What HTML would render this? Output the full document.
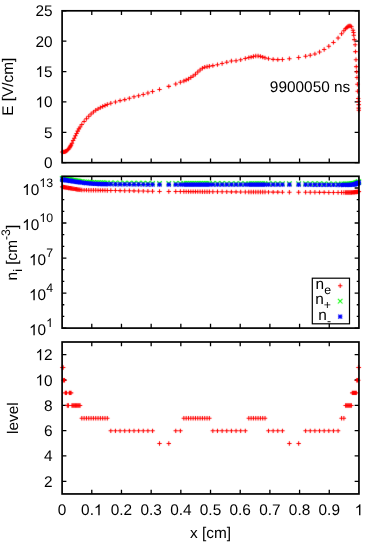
<!DOCTYPE html>
<html><head><meta charset="utf-8"><title>plot</title>
<style>html,body{margin:0;padding:0;background:#fff;}body{width:366px;height:549px;overflow:hidden;font-family:"Liberation Sans",sans-serif;}svg{display:block;will-change:transform;text-rendering:geometricPrecision;}</style></head>
<body>
<svg width="366" height="549" viewBox="0 0 366 549" font-family="'Liberation Sans', sans-serif" fill="#000">
<defs><filter id="sb" filterUnits="userSpaceOnUse" x="0" y="0" width="366" height="549"><feConvolveMatrix order="3" kernelMatrix="0.00562 0.06375 0.00562 0.06375 0.72250 0.06375 0.00562 0.06375 0.00562" divisor="1" edgeMode="none" preserveAlpha="false"/></filter></defs>
<path d="M91.78 162.70v-4.3M91.78 10.80v4.3M121.47 162.70v-4.3M121.47 10.80v4.3M151.16 162.70v-4.3M151.16 10.80v4.3M180.84 162.70v-4.3M180.84 10.80v4.3M210.52 162.70v-4.3M210.52 10.80v4.3M240.21 162.70v-4.3M240.21 10.80v4.3M269.89 162.70v-4.3M269.89 10.80v4.3M299.58 162.70v-4.3M299.58 10.80v4.3M329.26 162.70v-4.3M329.26 10.80v4.3M62.10 162.70h4.3M358.95 162.70h-4.3M62.10 132.32h4.3M358.95 132.32h-4.3M62.10 101.94h4.3M358.95 101.94h-4.3M62.10 71.56h4.3M358.95 71.56h-4.3M62.10 41.18h4.3M358.95 41.18h-4.3M62.10 10.80h4.3M358.95 10.80h-4.3" stroke="#000" stroke-width="1.3" fill="none"/>
<path d="M60.12 151.94H64.52M62.32 149.74V154.14M60.26 151.93H64.66M62.46 149.73V154.13M60.41 151.93H64.81M62.61 149.73V154.13M60.55 151.92H64.95M62.75 149.72V154.12M60.70 151.92H65.10M62.90 149.72V154.12M60.84 151.91H65.24M63.04 149.71V154.11M60.99 151.90H65.39M63.19 149.70V154.10M61.20 151.90H65.60M63.40 149.70V154.10M61.49 151.88H65.89M63.69 149.68V154.08M61.78 151.87H66.18M63.98 149.67V154.07M62.07 151.86H66.47M64.27 149.66V154.06M62.36 151.83H66.76M64.56 149.63V154.03M63.09 151.55H67.49M65.29 149.35V153.75M63.67 151.30H68.07M65.87 149.10V153.50M64.25 150.90H68.65M66.45 148.70V153.10M65.12 150.25H69.52M67.32 148.05V152.45M66.28 149.17H70.68M68.48 146.97V151.37M67.15 147.91H71.55M69.35 145.71V150.11M67.73 147.04H72.13M69.93 144.84V149.24M68.31 146.06H72.71M70.51 143.86V148.26M68.89 144.98H73.29M71.09 142.78V147.18M69.76 143.15H74.16M71.96 140.95V145.35M70.92 140.52H75.32M73.12 138.32V142.72M72.08 138.20H76.48M74.28 136.00V140.40M73.24 135.82H77.64M75.44 133.62V138.02M74.39 133.46H78.79M76.59 131.26V135.66M75.55 131.14H79.95M77.75 128.94V133.34M76.71 128.89H81.11M78.91 126.69V131.09M77.87 126.92H82.27M80.07 124.72V129.12M79.61 124.43H84.01M81.81 122.23V126.63M81.93 121.40H86.33M84.13 119.20V123.60M84.25 118.67H88.65M86.45 116.47V120.87M86.57 116.32H90.97M88.77 114.12V118.52M88.89 114.06H93.29M91.09 111.86V116.26M91.21 112.08H95.61M93.41 109.88V114.28M93.53 110.28H97.93M95.73 108.08V112.48M95.85 108.91H100.25M98.05 106.71V111.11M98.17 107.67H102.57M100.37 105.47V109.87M100.48 106.51H104.88M102.68 104.31V108.71M102.80 105.44H107.20M105.00 103.24V107.64M105.12 104.44H109.52M107.32 102.24V106.64M108.60 103.32H113.00M110.80 101.12V105.52M113.24 101.94H117.64M115.44 99.74V104.14M117.88 100.63H122.28M120.08 98.43V102.83M122.52 99.62H126.92M124.72 97.42V101.82M127.16 98.33H131.56M129.36 96.13V100.53M131.79 96.83H136.19M133.99 94.63V99.03M136.43 95.77H140.83M138.63 93.57V97.97M141.07 94.56H145.47M143.27 92.36V96.76M145.71 92.95H150.11M147.91 90.75V95.15M150.35 91.44H154.75M152.55 89.24V93.64M157.30 89.42H161.70M159.50 87.22V91.62M166.58 86.36H170.98M168.78 84.16V88.56M173.54 84.03H177.94M175.74 81.83V86.23M178.18 82.19H182.58M180.38 79.99V84.39M181.65 81.06H186.05M183.85 78.86V83.26M183.97 80.07H188.37M186.17 77.87V82.27M186.29 78.93H190.69M188.49 76.73V81.13M188.61 77.51H193.01M190.81 75.31V79.71M190.93 75.92H195.33M193.13 73.72V78.12M193.25 74.22H197.65M195.45 72.02V76.42M195.57 72.04H199.97M197.77 69.84V74.24M197.89 69.97H202.29M200.09 67.77V72.17M200.21 68.23H204.61M202.41 66.03V70.43M202.53 67.17H206.93M204.73 64.97V69.37M204.85 66.68H209.25M207.05 64.48V68.88M207.17 66.26H211.57M209.37 64.06V68.46M210.64 65.64H215.04M212.84 63.44V67.84M215.28 64.65H219.68M217.48 62.45V66.85M219.92 63.44H224.32M222.12 61.24V65.64M224.56 62.16H228.96M226.76 59.96V64.36M229.20 61.07H233.60M231.40 58.87V63.27M233.84 60.80H238.24M236.04 58.60V63.00M238.47 59.83H242.87M240.67 57.63V62.03M243.11 58.52H247.51M245.31 56.32V60.72M246.59 57.58H250.99M248.79 55.38V59.78M248.91 57.11H253.31M251.11 54.91V59.31M251.23 56.48H255.63M253.43 54.28V58.68M253.55 55.96H257.95M255.75 53.76V58.16M255.87 55.99H260.27M258.07 53.79V58.19M258.19 56.38H262.59M260.39 54.18V58.58M260.51 57.10H264.91M262.71 54.90V59.30M262.82 57.84H267.22M265.02 55.64V60.04M266.30 58.67H270.70M268.50 56.47V60.87M270.94 59.36H275.34M273.14 57.16V61.56M275.58 59.64H279.98M277.78 57.44V61.84M280.22 59.45H284.62M282.42 57.25V61.65M287.18 58.65H291.58M289.38 56.45V60.85M296.45 57.44H300.85M298.65 55.24V59.64M303.41 56.21H307.81M305.61 54.01V58.41M308.05 55.31H312.45M310.25 53.11V57.51M312.69 53.92H317.09M314.89 51.72V56.12M317.32 52.04H321.72M319.52 49.84V54.24M321.96 49.47H326.36M324.16 47.27V51.67M326.60 46.28H331.00M328.80 44.08V48.48M331.24 42.42H335.64M333.44 40.22V44.62M335.88 37.94H340.28M338.08 35.74V40.14M339.36 33.74H343.76M341.56 31.54V35.94M341.68 30.69H346.08M343.88 28.49V32.89M343.41 28.63H347.81M345.61 26.43V30.83M344.57 27.45H348.97M346.77 25.25V29.65M345.73 26.50H350.13M347.93 24.30V28.70M346.89 26.00H351.29M349.09 23.80V28.20M348.05 25.92H352.45M350.25 23.72V28.12M349.21 26.75H353.61M351.41 24.55V28.95M350.80 30.30H355.20M353.00 28.10V32.50M351.30 32.50H355.70M353.50 30.30V34.70M351.60 35.20H356.00M353.80 33.00V37.40M352.10 39.60H356.50M354.30 37.40V41.80M353.00 44.80H357.40M355.20 42.60V47.00M353.30 51.60H357.70M355.50 49.40V53.80M353.80 59.80H358.20M356.00 57.60V62.00M354.10 66.60H358.50M356.30 64.40V68.80M354.50 71.80H358.90M356.70 69.60V74.00M354.80 77.50H359.20M357.00 75.30V79.70M355.20 84.30H359.60M357.40 82.10V86.50M355.50 91.20H359.90M357.70 89.00V93.40M356.00 98.50H360.40M358.20 96.30V100.70M356.40 101.40H360.80M358.60 99.20V103.60M356.50 104.60H360.90M358.70 102.40V106.80M356.50 108.10H360.90M358.70 105.90V110.30M356.60 110.30H361.00M358.80 108.10V112.50" stroke="#f00" stroke-width="1.05" fill="none" filter="url(#sb)"/>
<rect x="62.10" y="10.80" width="296.85" height="151.90" stroke="#000" stroke-width="1.7" fill="none"/>
<text x="44.03" y="168.21" text-anchor="start" font-size="15.4" >0</text>
<text x="44.03" y="137.83" text-anchor="start" font-size="15.4" >5</text>
<path d="M763 0H583V1147Q518 1085 412.5 1023Q307 961 223 930V1104Q374 1175 487 1276Q600 1377 647 1472H763Z" transform="translate(35.47 107.45) scale(0.007520 -0.007520)"/>
<text x="44.03" y="107.45" text-anchor="start" font-size="15.4" >0</text>
<path d="M763 0H583V1147Q518 1085 412.5 1023Q307 961 223 930V1104Q374 1175 487 1276Q600 1377 647 1472H763Z" transform="translate(35.47 77.07) scale(0.007520 -0.007520)"/>
<text x="44.03" y="77.07" text-anchor="start" font-size="15.4" >5</text>
<text x="35.47" y="46.69" text-anchor="start" font-size="15.4" >20</text>
<text x="35.47" y="16.31" text-anchor="start" font-size="15.4" >25</text>
<text x="350.30" y="92.00" text-anchor="end" font-size="15.4" >9900050 ns</text>
<text transform="translate(13.2 86.75) rotate(-90)" text-anchor="middle" font-size="15.4">E [V/cm]</text>
<path d="M91.78 328.10v-4.3M91.78 176.30v4.3M121.47 328.10v-4.3M121.47 176.30v4.3M151.16 328.10v-4.3M151.16 176.30v4.3M180.84 328.10v-4.3M180.84 176.30v4.3M210.52 328.10v-4.3M210.52 176.30v4.3M240.21 328.10v-4.3M240.21 176.30v4.3M269.89 328.10v-4.3M269.89 176.30v4.3M299.58 328.10v-4.3M299.58 176.30v4.3M329.26 328.10v-4.3M329.26 176.30v4.3M62.10 328.10h4.3M358.95 328.10h-4.3M62.10 293.07h4.3M358.95 293.07h-4.3M62.10 258.04h4.3M358.95 258.04h-4.3M62.10 223.01h4.3M358.95 223.01h-4.3M62.10 187.98h4.3M358.95 187.98h-4.3M62.10 316.42h2.2M358.95 316.42h-2.2M62.10 304.75h2.2M358.95 304.75h-2.2M62.10 281.39h2.2M358.95 281.39h-2.2M62.10 269.72h2.2M358.95 269.72h-2.2M62.10 246.36h2.2M358.95 246.36h-2.2M62.10 234.68h2.2M358.95 234.68h-2.2M62.10 211.33h2.2M358.95 211.33h-2.2M62.10 199.65h2.2M358.95 199.65h-2.2" stroke="#000" stroke-width="1.3" fill="none"/>
<path d="M60.12 186.84H64.52M62.32 184.64V189.04M60.26 186.87H64.66M62.46 184.67V189.07M60.41 186.89H64.81M62.61 184.69V189.09M60.55 186.92H64.95M62.75 184.72V189.12M60.70 186.94H65.10M62.90 184.74V189.14M60.84 186.97H65.24M63.04 184.77V189.17M60.99 187.00H65.39M63.19 184.80V189.20M61.20 187.03H65.60M63.40 184.83V189.23M61.49 187.09H65.89M63.69 184.89V189.29M61.78 187.14H66.18M63.98 184.94V189.34M62.07 187.19H66.47M64.27 184.99V189.39M62.36 187.24H66.76M64.56 185.04V189.44M63.09 187.37H67.49M65.29 185.17V189.57M63.67 187.48H68.07M65.87 185.28V189.68M64.25 187.58H68.65M66.45 185.38V189.78M65.12 187.73H69.52M67.32 185.53V189.93M66.28 187.93H70.68M68.48 185.73V190.13M67.15 188.08H71.55M69.35 185.88V190.28M67.73 188.17H72.13M69.93 185.97V190.37M68.31 188.27H72.71M70.51 186.07V190.47M68.89 188.37H73.29M71.09 186.17V190.57M69.76 188.52H74.16M71.96 186.32V190.72M70.92 188.72H75.32M73.12 186.52V190.92M72.08 188.90H76.48M74.28 186.70V191.10M73.24 189.09H77.64M75.44 186.89V191.29M74.39 189.27H78.79M76.59 187.07V191.47M75.55 189.46H79.95M77.75 187.26V191.66M76.71 189.60H81.11M78.91 187.40V191.80M77.87 189.73H82.27M80.07 187.53V191.93M79.61 189.93H84.01M81.81 187.73V192.13M81.93 190.11H86.33M84.13 187.91V192.31M84.25 190.15H88.65M86.45 187.95V192.35M86.57 190.19H90.97M88.77 187.99V192.39M88.89 190.22H93.29M91.09 188.02V192.42M91.21 190.26H95.61M93.41 188.06V192.46M93.53 190.30H97.93M95.73 188.10V192.50M95.85 190.33H100.25M98.05 188.13V192.53M98.17 190.35H102.57M100.37 188.15V192.55M100.48 190.38H104.88M102.68 188.18V192.58M102.80 190.41H107.20M105.00 188.21V192.61M105.12 190.44H109.52M107.32 188.24V192.64M108.60 190.49H113.00M110.80 188.29V192.69M113.24 190.54H117.64M115.44 188.34V192.74M117.88 190.60H122.28M120.08 188.40V192.80M122.52 190.70H126.92M124.72 188.50V192.90M127.16 190.79H131.56M129.36 188.59V192.99M131.79 190.89H136.19M133.99 188.69V193.09M136.43 190.98H140.83M138.63 188.78V193.18M141.07 191.08H145.47M143.27 188.88V193.28M145.71 191.17H150.11M147.91 188.97V193.37M150.35 191.27H154.75M152.55 189.07V193.47M157.30 191.40H161.70M159.50 189.20V193.60M166.58 191.46H170.98M168.78 189.26V193.66M173.54 191.51H177.94M175.74 189.31V193.71M178.18 191.54H182.58M180.38 189.34V193.74M181.65 191.56H186.05M183.85 189.36V193.76M183.97 191.58H188.37M186.17 189.38V193.78M186.29 191.59H190.69M188.49 189.39V193.79M188.61 191.61H193.01M190.81 189.41V193.81M190.93 191.62H195.33M193.13 189.42V193.82M193.25 191.64H197.65M195.45 189.44V193.84M195.57 191.65H199.97M197.77 189.45V193.85M197.89 191.67H202.29M200.09 189.47V193.87M200.21 191.68H204.61M202.41 189.48V193.88M202.53 191.70H206.93M204.73 189.50V193.90M204.85 191.72H209.25M207.05 189.52V193.92M207.17 191.73H211.57M209.37 189.53V193.93M210.64 191.75H215.04M212.84 189.55V193.95M215.28 191.78H219.68M217.48 189.58V193.98M219.92 191.81H224.32M222.12 189.61V194.01M224.56 191.84H228.96M226.76 189.64V194.04M229.20 191.87H233.60M231.40 189.67V194.07M233.84 191.89H238.24M236.04 189.69V194.09M238.47 191.92H242.87M240.67 189.72V194.12M243.11 191.95H247.51M245.31 189.75V194.15M246.59 191.97H250.99M248.79 189.77V194.17M248.91 191.98H253.31M251.11 189.78V194.18M251.23 191.99H255.63M253.43 189.79V194.19M253.55 192.01H257.95M255.75 189.81V194.21M255.87 192.02H260.27M258.07 189.82V194.22M258.19 192.03H262.59M260.39 189.83V194.23M260.51 192.05H264.91M262.71 189.85V194.25M262.82 192.06H267.22M265.02 189.86V194.26M266.30 192.08H270.70M268.50 189.88V194.28M270.94 192.11H275.34M273.14 189.91V194.31M275.58 192.13H279.98M277.78 189.93V194.33M280.22 192.16H284.62M282.42 189.96V194.36M287.18 192.20H291.58M289.38 190.00V194.40M296.45 192.22H300.85M298.65 190.02V194.42M303.41 192.24H307.81M305.61 190.04V194.44M308.05 192.25H312.45M310.25 190.05V194.45M312.69 192.30H317.09M314.89 190.10V194.50M317.32 192.35H321.72M319.52 190.15V194.55M321.96 192.39H326.36M324.16 190.19V194.59M326.60 192.44H331.00M328.80 190.24V194.64M331.24 192.48H335.64M333.44 190.28V194.68M335.88 192.53H340.28M338.08 190.33V194.73M339.36 192.54H343.76M341.56 190.34V194.74M341.68 192.53H346.08M343.88 190.33V194.73M343.41 192.52H347.81M345.61 190.32V194.72M344.57 192.52H348.97M346.77 190.32V194.72M345.73 192.51H350.13M347.93 190.31V194.71M346.89 192.50H351.29M349.09 190.30V194.70M348.05 192.49H352.45M350.25 190.29V194.69M349.21 192.43H353.61M351.41 190.23V194.63M350.08 192.39H354.48M352.28 190.19V194.59M350.66 192.36H355.06M352.86 190.16V194.56M351.24 192.33H355.64M353.44 190.13V194.53M351.82 192.30H356.22M354.02 190.10V194.50M352.40 192.22H356.80M354.60 190.02V194.42M352.98 192.14H357.38M355.18 189.94V194.34M353.56 192.07H357.96M355.76 189.87V194.27M354.14 191.99H358.54M356.34 189.79V194.19M354.58 191.93H358.98M356.78 189.73V194.13M354.87 191.89H359.27M357.07 189.69V194.09M355.16 191.83H359.56M357.36 189.63V194.03M355.45 191.77H359.85M357.65 189.57V193.97M355.74 191.71H360.14M357.94 189.51V193.91M356.03 191.65H360.43M358.23 189.45V193.85M356.24 191.60H360.64M358.44 189.40V193.80M356.39 191.57H360.79M358.59 189.37V193.77M356.53 191.54H360.93M358.73 189.34V193.74M356.68 191.51H361.08M358.88 189.31V193.71" stroke="#f00" stroke-width="1.05" fill="none" filter="url(#sb)"/>
<path d="M60.02 176.24L64.62 180.84M60.02 180.84L64.62 176.24M60.16 176.26L64.76 180.86M60.16 180.86L64.76 176.26M60.31 176.28L64.91 180.88M60.31 180.88L64.91 176.28M60.45 176.31L65.05 180.91M60.45 180.91L65.05 176.31M60.60 176.33L65.20 180.93M60.60 180.93L65.20 176.33M60.74 176.35L65.34 180.95M60.74 180.95L65.34 176.35M60.89 176.37L65.49 180.97M60.89 180.97L65.49 176.37M61.10 176.41L65.70 181.01M61.10 181.01L65.70 176.41M61.39 176.46L65.99 181.06M61.39 181.06L65.99 176.46M61.68 176.50L66.28 181.10M61.68 181.10L66.28 176.50M61.97 176.55L66.57 181.15M61.97 181.15L66.57 176.55M62.26 176.59L66.86 181.19M62.26 181.19L66.86 176.59M62.99 176.71L67.59 181.31M62.99 181.31L67.59 176.71M63.57 176.80L68.17 181.40M63.57 181.40L68.17 176.80M64.15 176.89L68.75 181.49M64.15 181.49L68.75 176.89M65.02 177.03L69.62 181.63M65.02 181.63L69.62 177.03M66.18 177.22L70.78 181.82M66.18 181.82L70.78 177.22M67.05 177.35L71.65 181.95M67.05 181.95L71.65 177.35M67.63 177.45L72.23 182.05M67.63 182.05L72.23 177.45M68.21 177.54L72.81 182.14M68.21 182.14L72.81 177.54M68.79 177.63L73.39 182.23M68.79 182.23L73.39 177.63M69.66 177.77L74.26 182.37M69.66 182.37L74.26 177.77M70.82 177.96L75.42 182.56M70.82 182.56L75.42 177.96M71.98 178.14L76.58 182.74M71.98 182.74L76.58 178.14M73.14 178.33L77.74 182.93M73.14 182.93L77.74 178.33M74.29 178.51L78.89 183.11M74.29 183.11L78.89 178.51M75.45 178.70L80.05 183.30M75.45 183.30L80.05 178.70M76.61 178.86L81.21 183.46M76.61 183.46L81.21 178.86M77.77 179.02L82.37 183.62M77.77 183.62L82.37 179.02M79.51 179.26L84.11 183.86M79.51 183.86L84.11 179.26M81.83 179.53L86.43 184.13M81.83 184.13L86.43 179.53M84.15 179.72L88.75 184.32M84.15 184.32L88.75 179.72M86.47 179.90L91.07 184.50M86.47 184.50L91.07 179.90M88.79 180.06L93.39 184.66M88.79 184.66L93.39 180.06M91.11 180.19L95.71 184.79M91.11 184.79L95.71 180.19M93.43 180.32L98.03 184.92M93.43 184.92L98.03 180.32M95.75 180.38L100.35 184.98M95.75 184.98L100.35 180.38M98.07 180.43L102.67 185.03M98.07 185.03L102.67 180.43M100.38 180.48L104.98 185.08M100.38 185.08L104.98 180.48M102.70 180.54L107.30 185.14M102.70 185.14L107.30 180.54M105.02 180.59L109.62 185.19M105.02 185.19L109.62 180.59M108.50 180.64L113.10 185.24M108.50 185.24L113.10 180.64M113.14 180.70L117.74 185.30M113.14 185.30L117.74 180.70M117.78 180.75L122.38 185.35M117.78 185.35L122.38 180.75M122.42 180.80L127.02 185.40M122.42 185.40L127.02 180.80M127.06 180.84L131.66 185.44M127.06 185.44L131.66 180.84M131.69 180.89L136.29 185.49M131.69 185.49L136.29 180.89M136.33 180.93L140.93 185.53M136.33 185.53L140.93 180.93M140.97 180.97L145.57 185.57M140.97 185.57L145.57 180.97M145.61 181.02L150.21 185.62M145.61 185.62L150.21 181.02M150.25 181.06L154.85 185.66M150.25 185.66L154.85 181.06M157.20 181.12L161.80 185.72M157.20 185.72L161.80 181.12M166.48 181.14L171.08 185.74M166.48 185.74L171.08 181.14M173.44 181.15L178.04 185.75M173.44 185.75L178.04 181.15M178.08 181.16L182.68 185.76M178.08 185.76L182.68 181.16M181.55 181.17L186.15 185.77M181.55 185.77L186.15 181.17M183.87 181.18L188.47 185.78M183.87 185.78L188.47 181.18M186.19 181.18L190.79 185.78M186.19 185.78L190.79 181.18M188.51 181.18L193.11 185.78M188.51 185.78L193.11 181.18M190.83 181.19L195.43 185.79M190.83 185.79L195.43 181.19M193.15 181.19L197.75 185.79M193.15 185.79L197.75 181.19M195.47 181.20L200.07 185.80M195.47 185.80L200.07 181.20M197.79 181.20L202.39 185.80M197.79 185.80L202.39 181.20M200.11 181.21L204.71 185.81M200.11 185.81L204.71 181.21M202.43 181.21L207.03 185.81M202.43 185.81L207.03 181.21M204.75 181.22L209.35 185.82M204.75 185.82L209.35 181.22M207.07 181.22L211.67 185.82M207.07 185.82L211.67 181.22M210.54 181.23L215.14 185.83M210.54 185.83L215.14 181.23M215.18 181.24L219.78 185.84M215.18 185.84L219.78 181.24M219.82 181.24L224.42 185.84M219.82 185.84L224.42 181.24M224.46 181.25L229.06 185.85M224.46 185.85L229.06 181.25M229.10 181.26L233.70 185.86M229.10 185.86L233.70 181.26M233.74 181.26L238.34 185.86M233.74 185.86L238.34 181.26M238.37 181.27L242.97 185.87M238.37 185.87L242.97 181.27M243.01 181.27L247.61 185.87M243.01 185.87L247.61 181.27M246.49 181.27L251.09 185.87M246.49 185.87L251.09 181.27M248.81 181.28L253.41 185.88M248.81 185.88L253.41 181.28M251.13 181.28L255.73 185.88M251.13 185.88L255.73 181.28M253.45 181.28L258.05 185.88M253.45 185.88L258.05 181.28M255.77 181.28L260.37 185.88M255.77 185.88L260.37 181.28M258.09 181.29L262.69 185.89M258.09 185.89L262.69 181.29M260.41 181.29L265.01 185.89M260.41 185.89L265.01 181.29M262.72 181.29L267.32 185.89M262.72 185.89L267.32 181.29M266.20 181.30L270.80 185.90M266.20 185.90L270.80 181.30M270.84 181.30L275.44 185.90M270.84 185.90L275.44 181.30M275.48 181.31L280.08 185.91M275.48 185.91L280.08 181.31M280.12 181.31L284.72 185.91M280.12 185.91L284.72 181.31M287.08 181.32L291.68 185.92M287.08 185.92L291.68 181.32M296.35 181.36L300.95 185.96M296.35 185.96L300.95 181.36M303.31 181.39L307.91 185.99M303.31 185.99L307.91 181.39M307.95 181.41L312.55 186.01M307.95 186.01L312.55 181.41M312.59 181.44L317.19 186.04M312.59 186.04L317.19 181.44M317.22 181.48L321.82 186.08M317.22 186.08L321.82 181.48M321.86 181.51L326.46 186.11M321.86 186.11L326.46 181.51M326.50 181.55L331.10 186.15M326.50 186.15L331.10 181.55M331.14 181.58L335.74 186.18M331.14 186.18L335.74 181.58M335.78 181.61L340.38 186.21M335.78 186.21L340.38 181.61M339.26 181.61L343.86 186.21M339.26 186.21L343.86 181.61M341.58 181.59L346.18 186.19M341.58 186.19L346.18 181.59M343.31 181.58L347.91 186.18M343.31 186.18L347.91 181.58M344.47 181.57L349.07 186.17M344.47 186.17L349.07 181.57M345.63 181.56L350.23 186.16M345.63 186.16L350.23 181.56M346.79 181.54L351.39 186.14M346.79 186.14L351.39 181.54M347.95 181.52L352.55 186.12M347.95 186.12L352.55 181.52M349.11 181.43L353.71 186.03M349.11 186.03L353.71 181.43M349.98 181.36L354.58 185.96M349.98 185.96L354.58 181.36M350.56 181.32L355.16 185.92M350.56 185.92L355.16 181.32M351.14 181.23L355.74 185.83M351.14 185.83L355.74 181.23M351.72 181.13L356.32 185.73M351.72 185.73L356.32 181.13M352.30 181.02L356.90 185.62M352.30 185.62L356.90 181.02M352.88 180.89L357.48 185.49M352.88 185.49L357.48 180.89M353.46 180.70L358.06 185.30M353.46 185.30L358.06 180.70M354.04 180.52L358.64 185.12M354.04 185.12L358.64 180.52M354.48 180.38L359.08 184.98M354.48 184.98L359.08 180.38M354.77 180.29L359.37 184.89M354.77 184.89L359.37 180.29M355.06 180.16L359.66 184.76M355.06 184.76L359.66 180.16M355.35 180.04L359.95 184.64M355.35 184.64L359.95 180.04M355.64 179.92L360.24 184.52M355.64 184.52L360.24 179.92M355.93 179.80L360.53 184.40M355.93 184.40L360.53 179.80M356.14 179.71L360.74 184.31M356.14 184.31L360.74 179.71M356.29 179.64L360.89 184.24M356.29 184.24L360.89 179.64M356.43 179.58L361.03 184.18M356.43 184.18L361.03 179.58M356.58 179.52L361.18 184.12M356.58 184.12L361.18 179.52" stroke="#0f0" stroke-width="1.05" fill="none" filter="url(#sb)"/>
<path d="M60.12 179.63H64.52M62.32 177.43V181.83M60.32 177.63L64.32 181.63M60.32 181.63L64.32 177.63M60.26 179.66H64.66M62.46 177.46V181.86M60.46 177.66L64.46 181.66M60.46 181.66L64.46 177.66M60.41 179.68H64.81M62.61 177.48V181.88M60.61 177.68L64.61 181.68M60.61 181.68L64.61 177.68M60.55 179.70H64.95M62.75 177.50V181.90M60.75 177.70L64.75 181.70M60.75 181.70L64.75 177.70M60.70 179.72H65.10M62.90 177.52V181.92M60.90 177.72L64.90 181.72M60.90 181.72L64.90 177.72M60.84 179.74H65.24M63.04 177.54V181.94M61.04 177.74L65.04 181.74M61.04 181.74L65.04 177.74M60.99 179.77H65.39M63.19 177.57V181.97M61.19 177.77L65.19 181.77M61.19 181.77L65.19 177.77M61.20 179.80H65.60M63.40 177.60V182.00M61.40 177.80L65.40 181.80M61.40 181.80L65.40 177.80M61.49 179.85H65.89M63.69 177.65V182.05M61.69 177.85L65.69 181.85M61.69 181.85L65.69 177.85M61.78 179.89H66.18M63.98 177.69V182.09M61.98 177.89L65.98 181.89M61.98 181.89L65.98 177.89M62.07 179.93H66.47M64.27 177.73V182.13M62.27 177.93L66.27 181.93M62.27 181.93L66.27 177.93M62.36 179.98H66.76M64.56 177.78V182.18M62.56 177.98L66.56 181.98M62.56 181.98L66.56 177.98M63.09 180.09H67.49M65.29 177.89V182.29M63.29 178.09L67.29 182.09M63.29 182.09L67.29 178.09M63.67 180.18H68.07M65.87 177.98V182.38M63.87 178.18L67.87 182.18M63.87 182.18L67.87 178.18M64.25 180.27H68.65M66.45 178.07V182.47M64.45 178.27L68.45 182.27M64.45 182.27L68.45 178.27M65.12 180.41H69.52M67.32 178.21V182.61M65.32 178.41L69.32 182.41M65.32 182.41L69.32 178.41M66.28 180.59H70.68M68.48 178.39V182.79M66.48 178.59L70.48 182.59M66.48 182.59L70.48 178.59M67.15 180.72H71.55M69.35 178.52V182.92M67.35 178.72L71.35 182.72M67.35 182.72L71.35 178.72M67.73 180.81H72.13M69.93 178.61V183.01M67.93 178.81L71.93 182.81M67.93 182.81L71.93 178.81M68.31 180.90H72.71M70.51 178.70V183.10M68.51 178.90L72.51 182.90M68.51 182.90L72.51 178.90M68.89 180.99H73.29M71.09 178.79V183.19M69.09 178.99L73.09 182.99M69.09 182.99L73.09 178.99M69.76 181.13H74.16M71.96 178.93V183.33M69.96 179.13L73.96 183.13M69.96 183.13L73.96 179.13M70.92 181.32H75.32M73.12 179.12V183.52M71.12 179.32L75.12 183.32M71.12 183.32L75.12 179.32M72.08 181.50H76.48M74.28 179.30V183.70M72.28 179.50L76.28 183.50M72.28 183.50L76.28 179.50M73.24 181.69H77.64M75.44 179.49V183.89M73.44 179.69L77.44 183.69M73.44 183.69L77.44 179.69M74.39 181.87H78.79M76.59 179.67V184.07M74.59 179.87L78.59 183.87M74.59 183.87L78.59 179.87M75.55 182.06H79.95M77.75 179.86V184.26M75.75 180.06L79.75 184.06M75.75 184.06L79.75 180.06M76.71 182.23H81.11M78.91 180.03V184.43M76.91 180.23L80.91 184.23M76.91 184.23L80.91 180.23M77.87 182.39H82.27M80.07 180.19V184.59M78.07 180.39L82.07 184.39M78.07 184.39L82.07 180.39M79.61 182.64H84.01M81.81 180.44V184.84M79.81 180.64L83.81 184.64M79.81 184.64L83.81 180.64M81.93 182.93H86.33M84.13 180.73V185.13M82.13 180.93L86.13 184.93M82.13 184.93L86.13 180.93M84.25 183.16H88.65M86.45 180.96V185.36M84.45 181.16L88.45 185.16M84.45 185.16L88.45 181.16M86.57 183.38H90.97M88.77 181.18V185.58M86.77 181.38L90.77 185.38M86.77 185.38L90.77 181.38M88.89 183.57H93.29M91.09 181.37V185.77M89.09 181.57L93.09 185.57M89.09 185.57L93.09 181.57M91.21 183.73H95.61M93.41 181.53V185.93M91.41 181.73L95.41 185.73M91.41 185.73L95.41 181.73M93.53 183.88H97.93M95.73 181.68V186.08M93.73 181.88L97.73 185.88M93.73 185.88L97.73 181.88M95.85 183.95H100.25M98.05 181.75V186.15M96.05 181.95L100.05 185.95M96.05 185.95L100.05 181.95M98.17 184.01H102.57M100.37 181.81V186.21M98.37 182.01L102.37 186.01M98.37 186.01L102.37 182.01M100.48 184.07H104.88M102.68 181.87V186.27M100.68 182.07L104.68 186.07M100.68 186.07L104.68 182.07M102.80 184.13H107.20M105.00 181.93V186.33M103.00 182.13L107.00 186.13M103.00 186.13L107.00 182.13M105.12 184.18H109.52M107.32 181.98V186.38M105.32 182.18L109.32 186.18M105.32 186.18L109.32 182.18M108.60 184.24H113.00M110.80 182.04V186.44M108.80 182.24L112.80 186.24M108.80 186.24L112.80 182.24M113.24 184.29H117.64M115.44 182.09V186.49M113.44 182.29L117.44 186.29M113.44 186.29L117.44 182.29M117.88 184.35H122.28M120.08 182.15V186.55M118.08 182.35L122.08 186.35M118.08 186.35L122.08 182.35M122.52 184.38H126.92M124.72 182.18V186.58M122.72 182.38L126.72 186.38M122.72 186.38L126.72 182.38M127.16 184.41H131.56M129.36 182.21V186.61M127.36 182.41L131.36 186.41M127.36 186.41L131.36 182.41M131.79 184.44H136.19M133.99 182.24V186.64M131.99 182.44L135.99 186.44M131.99 186.44L135.99 182.44M136.43 184.47H140.83M138.63 182.27V186.67M136.63 182.47L140.63 186.47M136.63 186.47L140.63 182.47M141.07 184.50H145.47M143.27 182.30V186.70M141.27 182.50L145.27 186.50M141.27 186.50L145.27 182.50M145.71 184.53H150.11M147.91 182.33V186.73M145.91 182.53L149.91 186.53M145.91 186.53L149.91 182.53M150.35 184.56H154.75M152.55 182.36V186.76M150.55 182.56L154.55 186.56M150.55 186.56L154.55 182.56M157.30 184.60H161.70M159.50 182.40V186.80M157.50 182.60L161.50 186.60M157.50 186.60L161.50 182.60M166.58 184.61H170.98M168.78 182.41V186.81M166.78 182.61L170.78 186.61M166.78 186.61L170.78 182.61M173.54 184.61H177.94M175.74 182.41V186.81M173.74 182.61L177.74 186.61M173.74 186.61L177.74 182.61M178.18 184.62H182.58M180.38 182.42V186.82M178.38 182.62L182.38 186.62M178.38 186.62L182.38 182.62M181.65 184.62H186.05M183.85 182.42V186.82M181.85 182.62L185.85 186.62M181.85 186.62L185.85 182.62M183.97 184.62H188.37M186.17 182.42V186.82M184.17 182.62L188.17 186.62M184.17 186.62L188.17 182.62M186.29 184.62H190.69M188.49 182.42V186.82M186.49 182.62L190.49 186.62M186.49 186.62L190.49 182.62M188.61 184.63H193.01M190.81 182.43V186.83M188.81 182.63L192.81 186.63M188.81 186.63L192.81 182.63M190.93 184.63H195.33M193.13 182.43V186.83M191.13 182.63L195.13 186.63M191.13 186.63L195.13 182.63M193.25 184.63H197.65M195.45 182.43V186.83M193.45 182.63L197.45 186.63M193.45 186.63L197.45 182.63M195.57 184.63H199.97M197.77 182.43V186.83M195.77 182.63L199.77 186.63M195.77 186.63L199.77 182.63M197.89 184.63H202.29M200.09 182.43V186.83M198.09 182.63L202.09 186.63M198.09 186.63L202.09 182.63M200.21 184.64H204.61M202.41 182.44V186.84M200.41 182.64L204.41 186.64M200.41 186.64L204.41 182.64M202.53 184.64H206.93M204.73 182.44V186.84M202.73 182.64L206.73 186.64M202.73 186.64L206.73 182.64M204.85 184.64H209.25M207.05 182.44V186.84M205.05 182.64L209.05 186.64M205.05 186.64L209.05 182.64M207.17 184.64H211.57M209.37 182.44V186.84M207.37 182.64L211.37 186.64M207.37 186.64L211.37 182.64M210.64 184.64H215.04M212.84 182.44V186.84M210.84 182.64L214.84 186.64M210.84 186.64L214.84 182.64M215.28 184.65H219.68M217.48 182.45V186.85M215.48 182.65L219.48 186.65M215.48 186.65L219.48 182.65M219.92 184.65H224.32M222.12 182.45V186.85M220.12 182.65L224.12 186.65M220.12 186.65L224.12 182.65M224.56 184.65H228.96M226.76 182.45V186.85M224.76 182.65L228.76 186.65M224.76 186.65L228.76 182.65M229.20 184.65H233.60M231.40 182.45V186.85M229.40 182.65L233.40 186.65M229.40 186.65L233.40 182.65M233.84 184.65H238.24M236.04 182.45V186.85M234.04 182.65L238.04 186.65M234.04 186.65L238.04 182.65M238.47 184.65H242.87M240.67 182.45V186.85M238.67 182.65L242.67 186.65M238.67 186.65L242.67 182.65M243.11 184.65H247.51M245.31 182.45V186.85M243.31 182.65L247.31 186.65M243.31 186.65L247.31 182.65M246.59 184.65H250.99M248.79 182.45V186.85M246.79 182.65L250.79 186.65M246.79 186.65L250.79 182.65M248.91 184.65H253.31M251.11 182.45V186.85M249.11 182.65L253.11 186.65M249.11 186.65L253.11 182.65M251.23 184.65H255.63M253.43 182.45V186.85M251.43 182.65L255.43 186.65M251.43 186.65L255.43 182.65M253.55 184.65H257.95M255.75 182.45V186.85M253.75 182.65L257.75 186.65M253.75 186.65L257.75 182.65M255.87 184.65H260.27M258.07 182.45V186.85M256.07 182.65L260.07 186.65M256.07 186.65L260.07 182.65M258.19 184.65H262.59M260.39 182.45V186.85M258.39 182.65L262.39 186.65M258.39 186.65L262.39 182.65M260.51 184.65H264.91M262.71 182.45V186.85M260.71 182.65L264.71 186.65M260.71 186.65L264.71 182.65M262.82 184.65H267.22M265.02 182.45V186.85M263.02 182.65L267.02 186.65M263.02 186.65L267.02 182.65M266.30 184.65H270.70M268.50 182.45V186.85M266.50 182.65L270.50 186.65M266.50 186.65L270.50 182.65M270.94 184.65H275.34M273.14 182.45V186.85M271.14 182.65L275.14 186.65M271.14 186.65L275.14 182.65M275.58 184.65H279.98M277.78 182.45V186.85M275.78 182.65L279.78 186.65M275.78 186.65L279.78 182.65M280.22 184.65H284.62M282.42 182.45V186.85M280.42 182.65L284.42 186.65M280.42 186.65L284.42 182.65M287.18 184.65H291.58M289.38 182.45V186.85M287.38 182.65L291.38 186.65M287.38 186.65L291.38 182.65M296.45 184.70H300.85M298.65 182.50V186.90M296.65 182.70L300.65 186.70M296.65 186.70L300.65 182.70M303.41 184.73H307.81M305.61 182.53V186.93M303.61 182.73L307.61 186.73M303.61 186.73L307.61 182.73M308.05 184.75H312.45M310.25 182.55V186.95M308.25 182.75L312.25 186.75M308.25 186.75L312.25 182.75M312.69 184.78H317.09M314.89 182.58V186.98M312.89 182.78L316.89 186.78M312.89 186.78L316.89 182.78M317.32 184.81H321.72M319.52 182.61V187.01M317.52 182.81L321.52 186.81M317.52 186.81L321.52 182.81M321.96 184.84H326.36M324.16 182.64V187.04M322.16 182.84L326.16 186.84M322.16 186.84L326.16 182.84M326.60 184.88H331.00M328.80 182.68V187.08M326.80 182.88L330.80 186.88M326.80 186.88L330.80 182.88M331.24 184.91H335.64M333.44 182.71V187.11M331.44 182.91L335.44 186.91M331.44 186.91L335.44 182.91M335.88 184.94H340.28M338.08 182.74V187.14M336.08 182.94L340.08 186.94M336.08 186.94L340.08 182.94M339.36 184.93H343.76M341.56 182.73V187.13M339.56 182.93L343.56 186.93M339.56 186.93L343.56 182.93M341.68 184.91H346.08M343.88 182.71V187.11M341.88 182.91L345.88 186.91M341.88 186.91L345.88 182.91M343.41 184.89H347.81M345.61 182.69V187.09M343.61 182.89L347.61 186.89M343.61 186.89L347.61 182.89M344.57 184.88H348.97M346.77 182.68V187.08M344.77 182.88L348.77 186.88M344.77 186.88L348.77 182.88M345.73 184.87H350.13M347.93 182.67V187.07M345.93 182.87L349.93 186.87M345.93 186.87L349.93 182.87M346.89 184.86H351.29M349.09 182.66V187.06M347.09 182.86L351.09 186.86M347.09 186.86L351.09 182.86M348.05 184.83H352.45M350.25 182.63V187.03M348.25 182.83L352.25 186.83M348.25 186.83L352.25 182.83M349.21 184.73H353.61M351.41 182.53V186.93M349.41 182.73L353.41 186.73M349.41 186.73L353.41 182.73M350.08 184.66H354.48M352.28 182.46V186.86M350.28 182.66L354.28 186.66M350.28 186.66L354.28 182.66M350.66 184.61H355.06M352.86 182.41V186.81M350.86 182.61L354.86 186.61M350.86 186.61L354.86 182.61M351.24 184.51H355.64M353.44 182.31V186.71M351.44 182.51L355.44 186.51M351.44 186.51L355.44 182.51M351.82 184.40H356.22M354.02 182.20V186.60M352.02 182.40L356.02 186.40M352.02 186.40L356.02 182.40M352.40 184.28H356.80M354.60 182.08V186.48M352.60 182.28L356.60 186.28M352.60 186.28L356.60 182.28M352.98 184.14H357.38M355.18 181.94V186.34M353.18 182.14L357.18 186.14M353.18 186.14L357.18 182.14M353.56 183.93H357.96M355.76 181.73V186.13M353.76 181.93L357.76 185.93M353.76 185.93L357.76 181.93M354.14 183.73H358.54M356.34 181.53V185.93M354.34 181.73L358.34 185.73M354.34 185.73L358.34 181.73M354.58 183.58H358.98M356.78 181.38V185.78M354.78 181.58L358.78 185.58M354.78 185.58L358.78 181.58M354.87 183.47H359.27M357.07 181.27V185.67M355.07 181.47L359.07 185.47M355.07 185.47L359.07 181.47M355.16 183.34H359.56M357.36 181.14V185.54M355.36 181.34L359.36 185.34M355.36 185.34L359.36 181.34M355.45 183.20H359.85M357.65 181.00V185.40M355.65 181.20L359.65 185.20M355.65 185.20L359.65 181.20M355.74 183.07H360.14M357.94 180.87V185.27M355.94 181.07L359.94 185.07M355.94 185.07L359.94 181.07M356.03 182.93H360.43M358.23 180.73V185.13M356.23 180.93L360.23 184.93M356.23 184.93L360.23 180.93M356.24 182.83H360.64M358.44 180.63V185.03M356.44 180.83L360.44 184.83M356.44 184.83L360.44 180.83M356.39 182.77H360.79M358.59 180.57V184.97M356.59 180.77L360.59 184.77M356.59 184.77L360.59 180.77M356.53 182.70H360.93M358.73 180.50V184.90M356.73 180.70L360.73 184.70M356.73 184.70L360.73 180.70M356.68 182.63H361.08M358.88 180.43V184.83M356.88 180.63L360.88 184.63M356.88 184.63L360.88 180.63" stroke="#00f" stroke-width="1.05" fill="none" filter="url(#sb)"/>
<rect x="62.10" y="176.30" width="296.85" height="151.80" stroke="#000" stroke-width="1.7" fill="none"/>
<path d="M763 0H583V1147Q518 1085 412.5 1023Q307 961 223 930V1104Q374 1175 487 1276Q600 1377 647 1472H763Z" transform="translate(46.15 327.11) scale(0.006016 -0.006016)"/>
<path d="M763 0H583V1147Q518 1085 412.5 1023Q307 961 223 930V1104Q374 1175 487 1276Q600 1377 647 1472H763Z" transform="translate(29.01 335.21) scale(0.007520 -0.007520)"/>
<text x="37.58" y="335.21" text-anchor="start" font-size="15.4" >0</text>
<text x="46.15" y="292.08" text-anchor="start" font-size="12.32" >4</text>
<path d="M763 0H583V1147Q518 1085 412.5 1023Q307 961 223 930V1104Q374 1175 487 1276Q600 1377 647 1472H763Z" transform="translate(29.01 300.18) scale(0.007520 -0.007520)"/>
<text x="37.58" y="300.18" text-anchor="start" font-size="15.4" >0</text>
<text x="46.15" y="257.05" text-anchor="start" font-size="12.32" >7</text>
<path d="M763 0H583V1147Q518 1085 412.5 1023Q307 961 223 930V1104Q374 1175 487 1276Q600 1377 647 1472H763Z" transform="translate(29.01 265.15) scale(0.007520 -0.007520)"/>
<text x="37.58" y="265.15" text-anchor="start" font-size="15.4" >0</text>
<path d="M763 0H583V1147Q518 1085 412.5 1023Q307 961 223 930V1104Q374 1175 487 1276Q600 1377 647 1472H763Z" transform="translate(39.29 222.02) scale(0.006016 -0.006016)"/>
<text x="46.15" y="222.02" text-anchor="start" font-size="12.32" >0</text>
<path d="M763 0H583V1147Q518 1085 412.5 1023Q307 961 223 930V1104Q374 1175 487 1276Q600 1377 647 1472H763Z" transform="translate(22.16 230.12) scale(0.007520 -0.007520)"/>
<text x="30.73" y="230.12" text-anchor="start" font-size="15.4" >0</text>
<path d="M763 0H583V1147Q518 1085 412.5 1023Q307 961 223 930V1104Q374 1175 487 1276Q600 1377 647 1472H763Z" transform="translate(39.29 186.99) scale(0.006016 -0.006016)"/>
<text x="46.15" y="186.99" text-anchor="start" font-size="12.32" >3</text>
<path d="M763 0H583V1147Q518 1085 412.5 1023Q307 961 223 930V1104Q374 1175 487 1276Q600 1377 647 1472H763Z" transform="translate(22.16 195.09) scale(0.007520 -0.007520)"/>
<text x="30.73" y="195.09" text-anchor="start" font-size="15.4" >0</text>
<text transform="translate(17.4 252.60) rotate(-90)" text-anchor="middle" font-size="15.4">n<tspan font-size="12.3" dy="4.2">i</tspan><tspan dy="-4.2"> [cm</tspan><tspan font-size="12.3" dy="-7.2">-3</tspan><tspan dy="7.2">]</tspan></text>
<rect x="312.3" y="278.2" width="37.2" height="45.6" stroke="#000" stroke-width="1.2" fill="#fff"/>
<path d="M338.00 285.75H342.40M340.20 283.55V287.95" stroke="#f00" stroke-width="1.05" fill="none" filter="url(#sb)"/>
<text x="331.00" y="289.00" text-anchor="end" font-size="15.4" >n<tspan font-size="12.3" dy="5.0">e</tspan></text>
<path d="M337.90 298.90L342.50 303.50M337.90 303.50L342.50 298.90" stroke="#0f0" stroke-width="1.05" fill="none" filter="url(#sb)"/>
<text x="331.00" y="304.45" text-anchor="end" font-size="15.4" >n<tspan font-size="12.3" dy="5.0">+</tspan></text>
<path d="M338.00 316.65H342.40M340.20 314.45V318.85M338.20 314.65L342.20 318.65M338.20 318.65L342.20 314.65" stroke="#00f" stroke-width="1.05" fill="none" filter="url(#sb)"/>
<text x="331.00" y="319.90" text-anchor="end" font-size="15.4" >n<tspan font-size="12.3" dy="5.0">-</tspan></text>
<path d="M91.78 493.95v-4.3M91.78 342.00v4.3M121.47 493.95v-4.3M121.47 342.00v4.3M151.16 493.95v-4.3M151.16 342.00v4.3M180.84 493.95v-4.3M180.84 342.00v4.3M210.52 493.95v-4.3M210.52 342.00v4.3M240.21 493.95v-4.3M240.21 342.00v4.3M269.89 493.95v-4.3M269.89 342.00v4.3M299.58 493.95v-4.3M299.58 342.00v4.3M329.26 493.95v-4.3M329.26 342.00v4.3M62.10 481.29h4.3M358.95 481.29h-4.3M62.10 455.96h4.3M358.95 455.96h-4.3M62.10 430.64h4.3M358.95 430.64h-4.3M62.10 405.31h4.3M358.95 405.31h-4.3M62.10 379.99h4.3M358.95 379.99h-4.3M62.10 354.66h4.3M358.95 354.66h-4.3" stroke="#000" stroke-width="1.3" fill="none"/>
<path d="M60.12 367.52H64.52M62.32 365.32V369.72M60.26 367.52H64.66M62.46 365.32V369.72M60.41 367.52H64.81M62.61 365.32V369.72M60.55 367.52H64.95M62.75 365.32V369.72M60.70 367.52H65.10M62.90 365.32V369.72M60.84 367.52H65.24M63.04 365.32V369.72M60.99 367.52H65.39M63.19 365.32V369.72M61.20 380.19H65.60M63.40 377.99V382.39M61.49 380.19H65.89M63.69 377.99V382.39M61.78 380.19H66.18M63.98 377.99V382.39M62.07 380.19H66.47M64.27 377.99V382.39M62.36 380.19H66.76M64.56 377.99V382.39M63.09 392.85H67.49M65.29 390.65V395.05M63.67 392.85H68.07M65.87 390.65V395.05M64.25 392.85H68.65M66.45 390.65V395.05M65.12 405.51H69.52M67.32 403.31V407.71M66.28 405.51H70.68M68.48 403.31V407.71M67.15 392.85H71.55M69.35 390.65V395.05M67.73 392.85H72.13M69.93 390.65V395.05M68.31 392.85H72.71M70.51 390.65V395.05M68.89 392.85H73.29M71.09 390.65V395.05M69.76 405.51H74.16M71.96 403.31V407.71M70.92 405.51H75.32M73.12 403.31V407.71M72.08 405.51H76.48M74.28 403.31V407.71M73.24 405.51H77.64M75.44 403.31V407.71M74.39 405.51H78.79M76.59 403.31V407.71M75.55 405.51H79.95M77.75 403.31V407.71M76.71 405.51H81.11M78.91 403.31V407.71M77.87 405.51H82.27M80.07 403.31V407.71M79.61 418.18H84.01M81.81 415.98V420.38M81.93 418.18H86.33M84.13 415.98V420.38M84.25 418.18H88.65M86.45 415.98V420.38M86.57 418.18H90.97M88.77 415.98V420.38M88.89 418.18H93.29M91.09 415.98V420.38M91.21 418.18H95.61M93.41 415.98V420.38M93.53 418.18H97.93M95.73 415.98V420.38M95.85 418.18H100.25M98.05 415.98V420.38M98.17 418.18H102.57M100.37 415.98V420.38M100.48 418.18H104.88M102.68 415.98V420.38M102.80 418.18H107.20M105.00 415.98V420.38M105.12 418.18H109.52M107.32 415.98V420.38M108.60 430.84H113.00M110.80 428.64V433.04M113.24 430.84H117.64M115.44 428.64V433.04M117.88 430.84H122.28M120.08 428.64V433.04M122.52 430.84H126.92M124.72 428.64V433.04M127.16 430.84H131.56M129.36 428.64V433.04M131.79 430.84H136.19M133.99 428.64V433.04M136.43 430.84H140.83M138.63 428.64V433.04M141.07 430.84H145.47M143.27 428.64V433.04M145.71 430.84H150.11M147.91 428.64V433.04M150.35 430.84H154.75M152.55 428.64V433.04M157.30 443.50H161.70M159.50 441.30V445.70M166.58 443.50H170.98M168.78 441.30V445.70M173.54 430.84H177.94M175.74 428.64V433.04M178.18 430.84H182.58M180.38 428.64V433.04M181.65 418.18H186.05M183.85 415.98V420.38M183.97 418.18H188.37M186.17 415.98V420.38M186.29 418.18H190.69M188.49 415.98V420.38M188.61 418.18H193.01M190.81 415.98V420.38M190.93 418.18H195.33M193.13 415.98V420.38M193.25 418.18H197.65M195.45 415.98V420.38M195.57 418.18H199.97M197.77 415.98V420.38M197.89 418.18H202.29M200.09 415.98V420.38M200.21 418.18H204.61M202.41 415.98V420.38M202.53 418.18H206.93M204.73 415.98V420.38M204.85 418.18H209.25M207.05 415.98V420.38M207.17 418.18H211.57M209.37 415.98V420.38M210.64 430.84H215.04M212.84 428.64V433.04M215.28 430.84H219.68M217.48 428.64V433.04M219.92 430.84H224.32M222.12 428.64V433.04M224.56 430.84H228.96M226.76 428.64V433.04M229.20 430.84H233.60M231.40 428.64V433.04M233.84 430.84H238.24M236.04 428.64V433.04M238.47 430.84H242.87M240.67 428.64V433.04M243.11 430.84H247.51M245.31 428.64V433.04M246.59 418.18H250.99M248.79 415.98V420.38M248.91 418.18H253.31M251.11 415.98V420.38M251.23 418.18H255.63M253.43 415.98V420.38M253.55 418.18H257.95M255.75 415.98V420.38M255.87 418.18H260.27M258.07 415.98V420.38M258.19 418.18H262.59M260.39 415.98V420.38M260.51 418.18H264.91M262.71 415.98V420.38M262.82 418.18H267.22M265.02 415.98V420.38M266.30 430.84H270.70M268.50 428.64V433.04M270.94 430.84H275.34M273.14 428.64V433.04M275.58 430.84H279.98M277.78 428.64V433.04M280.22 430.84H284.62M282.42 428.64V433.04M287.18 443.50H291.58M289.38 441.30V445.70M296.45 443.50H300.85M298.65 441.30V445.70M303.41 430.84H307.81M305.61 428.64V433.04M308.05 430.84H312.45M310.25 428.64V433.04M312.69 430.84H317.09M314.89 428.64V433.04M317.32 430.84H321.72M319.52 428.64V433.04M321.96 430.84H326.36M324.16 428.64V433.04M326.60 430.84H331.00M328.80 428.64V433.04M331.24 430.84H335.64M333.44 428.64V433.04M335.88 430.84H340.28M338.08 428.64V433.04M339.36 418.18H343.76M341.56 415.98V420.38M341.68 418.18H346.08M343.88 415.98V420.38M343.41 405.51H347.81M345.61 403.31V407.71M344.57 405.51H348.97M346.77 403.31V407.71M345.73 405.51H350.13M347.93 403.31V407.71M346.89 405.51H351.29M349.09 403.31V407.71M348.05 405.51H352.45M350.25 403.31V407.71M349.21 405.51H353.61M351.41 403.31V407.71M350.08 392.85H354.48M352.28 390.65V395.05M350.66 392.85H355.06M352.86 390.65V395.05M351.24 392.85H355.64M353.44 390.65V395.05M351.82 392.85H356.22M354.02 390.65V395.05M352.40 392.85H356.80M354.60 390.65V395.05M352.98 392.85H357.38M355.18 390.65V395.05M353.56 392.85H357.96M355.76 390.65V395.05M354.14 392.85H358.54M356.34 390.65V395.05M354.58 380.19H358.98M356.78 377.99V382.39M354.87 380.19H359.27M357.07 377.99V382.39M355.16 380.19H359.56M357.36 377.99V382.39M355.45 380.19H359.85M357.65 377.99V382.39M355.74 380.19H360.14M357.94 377.99V382.39M356.03 380.19H360.43M358.23 377.99V382.39M356.24 367.52H360.64M358.44 365.32V369.72M356.39 367.52H360.79M358.59 365.32V369.72M356.53 367.52H360.93M358.73 365.32V369.72M356.68 367.52H361.08M358.88 365.32V369.72" stroke="#f00" stroke-width="1.05" fill="none" filter="url(#sb)"/>
<rect x="62.10" y="342.00" width="296.85" height="151.95" stroke="#000" stroke-width="1.7" fill="none"/>
<text x="44.03" y="486.80" text-anchor="start" font-size="15.4" >2</text>
<text x="44.03" y="461.48" text-anchor="start" font-size="15.4" >4</text>
<text x="44.03" y="436.15" text-anchor="start" font-size="15.4" >6</text>
<text x="44.03" y="410.83" text-anchor="start" font-size="15.4" >8</text>
<path d="M763 0H583V1147Q518 1085 412.5 1023Q307 961 223 930V1104Q374 1175 487 1276Q600 1377 647 1472H763Z" transform="translate(35.47 385.50) scale(0.007520 -0.007520)"/>
<text x="44.03" y="385.50" text-anchor="start" font-size="15.4" >0</text>
<path d="M763 0H583V1147Q518 1085 412.5 1023Q307 961 223 930V1104Q374 1175 487 1276Q600 1377 647 1472H763Z" transform="translate(35.47 360.18) scale(0.007520 -0.007520)"/>
<text x="44.03" y="360.18" text-anchor="start" font-size="15.4" >2</text>
<text x="57.82" y="515.30" text-anchor="start" font-size="15.4" >0</text>
<text x="81.08" y="515.30" text-anchor="start" font-size="15.4" >0.</text>
<path d="M763 0H583V1147Q518 1085 412.5 1023Q307 961 223 930V1104Q374 1175 487 1276Q600 1377 647 1472H763Z" transform="translate(93.93 515.30) scale(0.007520 -0.007520)"/>
<text x="110.76" y="515.30" text-anchor="start" font-size="15.4" >0.2</text>
<text x="140.45" y="515.30" text-anchor="start" font-size="15.4" >0.3</text>
<text x="170.13" y="515.30" text-anchor="start" font-size="15.4" >0.4</text>
<text x="199.82" y="515.30" text-anchor="start" font-size="15.4" >0.5</text>
<text x="229.50" y="515.30" text-anchor="start" font-size="15.4" >0.6</text>
<text x="259.19" y="515.30" text-anchor="start" font-size="15.4" >0.7</text>
<text x="288.87" y="515.30" text-anchor="start" font-size="15.4" >0.8</text>
<text x="318.56" y="515.30" text-anchor="start" font-size="15.4" >0.9</text>
<path d="M763 0H583V1147Q518 1085 412.5 1023Q307 961 223 930V1104Q374 1175 487 1276Q600 1377 647 1472H763Z" transform="translate(354.67 515.30) scale(0.007520 -0.007520)"/>
<text x="210.53" y="538.30" text-anchor="middle" font-size="15.4" >x [cm]</text>
<text transform="translate(17.7 418.18) rotate(-90)" text-anchor="middle" font-size="15.4">level</text>
</svg>
</body></html>
